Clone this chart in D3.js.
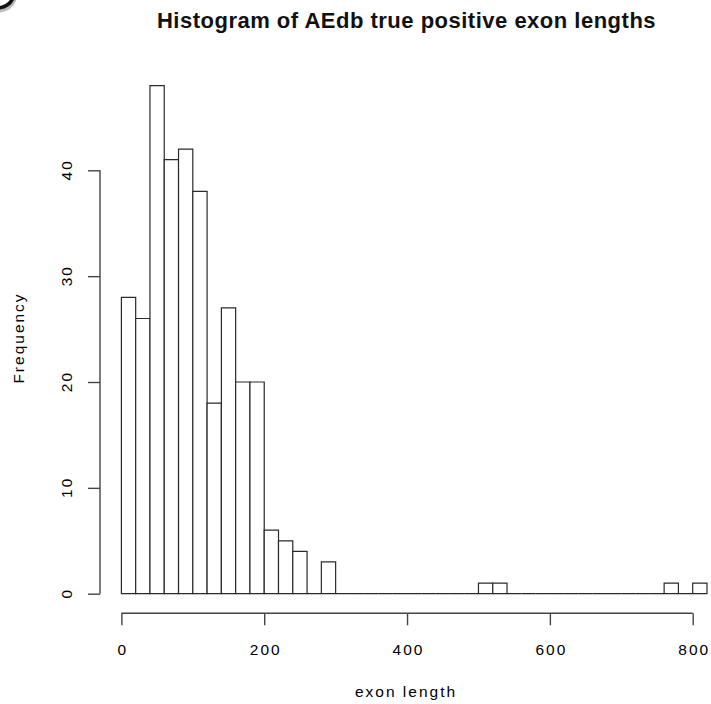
<!DOCTYPE html>
<html>
<head>
<meta charset="utf-8">
<script src="https://cdn.jsdelivr.net/npm/d3@7"></script>
<style>
  html, body { margin: 0; padding: 0; background: #fff; }
  svg { display: block; }
  text { font-family: "Liberation Sans", Arial, Helvetica, sans-serif; }
</style>
</head>
<body>
<svg id="chart" width="711" height="704"></svg>
<script>
// ---- data ----
const binStarts = [0,20,40,60,80,100,120,140,160,180,200,220,240,260,280,300,320,340,360,380,
                   400,420,440,460,480,500,520,540,560,580,600,620,640,660,680,700,720,740,760,780,800];
const binWidth = 20;
const counts    = [28,26,48,41,42,38,18,27,20,20,6,5,4,0,3,0,0,0,0,0,
                   0,0,0,0,0,1,1,0,0,0,0,0,0,0,0,0,0,0,1,0,1];
const xTicks = [0,200,400,600,800];
const yTicks = [0,10,20,30,40];
const titleText = "Histogram of AEdb true positive exon lengths";
const xLabel = "exon length";
const yLabel = "Frequency";

// ---- layout ----
const svg = d3.select("#chart");
const x = d3.scaleLinear().domain([0, 800]).range([121.4, 692.7]);
const y = d3.scaleLinear().domain([0, 40]).range([593.7, 170.3]);

const axisColor = "#444";
const barColor = "#2a2a2a";

// corner fragment of a panel letter (cut off in the reference)
svg.append("path")
  .attr("d", "M-2,9 Q9,8 13,-2")
  .attr("fill", "none").attr("stroke", "#bbb").attr("stroke-width", 4)
  .attr("transform", "translate(1.5,1.5)");
svg.append("path")
  .attr("d", "M-2,8 Q9,7 13,-2")
  .attr("fill", "none").attr("stroke", "#111").attr("stroke-width", 3.6);

// ---- bars ----
const bins = binStarts.map((s, i) => ({ x0: s, x1: s + binWidth, n: counts[i] }));
svg.append("g").selectAll("path")
  .data(bins)
  .join("path")
  .attr("d", d => {
    const p = d3.path();
    p.moveTo(x(d.x0), y(0));
    p.lineTo(x(d.x0), y(d.n));
    p.lineTo(x(d.x1), y(d.n));
    p.lineTo(x(d.x1), y(0));
    p.closePath();
    return p.toString();
  })
  .attr("fill", "#fff")
  .attr("stroke", barColor)
  .attr("stroke-width", 1.2);

// ---- x axis ----
const xAxisY = 613.3;
const gx = svg.append("g").attr("transform", `translate(0,${xAxisY})`)
  .call(d3.axisBottom(x).tickValues(xTicks).tickSize(12).tickSizeOuter(0).tickFormat(d3.format("d")));
gx.select(".domain").remove();
gx.append("line")
  .attr("x1", x(xTicks[0])).attr("x2", x(xTicks[xTicks.length - 1]))
  .attr("y1", 0).attr("y2", 0)
  .attr("stroke", axisColor).attr("stroke-width", 1.4);
gx.selectAll(".tick line").attr("stroke", axisColor).attr("stroke-width", 1.4);
gx.selectAll(".tick text")
  .attr("y", 0).attr("dy", null)
  .attr("transform", "translate(1,42)")
  .attr("fill", "#000")
  .style("font-size", "15.5px")
  .style("letter-spacing", "2px")
  .attr("font-family", null);

// ---- y axis ----
const yAxisX = 100;
const gy = svg.append("g").attr("transform", `translate(${yAxisX},0)`)
  .call(d3.axisLeft(y).tickValues(yTicks).tickSize(12).tickSizeOuter(0).tickFormat(d3.format("d")));
gy.select(".domain").remove();
gy.append("line")
  .attr("x1", 0).attr("x2", 0)
  .attr("y1", y(yTicks[0])).attr("y2", y(yTicks[yTicks.length - 1]))
  .attr("stroke", axisColor).attr("stroke-width", 1.4);
gy.selectAll(".tick line").attr("stroke", axisColor).attr("stroke-width", 1.4);
gy.selectAll(".tick text")
  .attr("x", null).attr("dy", null)
  .attr("transform", "translate(-28,-1) rotate(-90)")
  .attr("text-anchor", "middle")
  .attr("fill", "#000")
  .style("font-size", "15.5px")
  .style("letter-spacing", "2px")
  .attr("font-family", null);

// ---- labels ----
svg.append("text")
  .attr("x", 406.5).attr("y", 28)
  .attr("text-anchor", "middle")
  .style("font-size", "22px").style("font-weight", "bold")
  .style("letter-spacing", "0.5px")
  .attr("fill", "#111")
  .text(titleText);

svg.append("text")
  .attr("x", 406).attr("y", 697)
  .attr("text-anchor", "middle")
  .style("font-size", "15.5px").style("letter-spacing", "2px")
  .attr("fill", "#000")
  .text(xLabel);

svg.append("text")
  .attr("transform", "translate(24,338) rotate(-90)")
  .attr("text-anchor", "middle")
  .style("font-size", "15.5px").style("letter-spacing", "2px")
  .attr("fill", "#000")
  .text(yLabel);
</script>
</body>
</html>
